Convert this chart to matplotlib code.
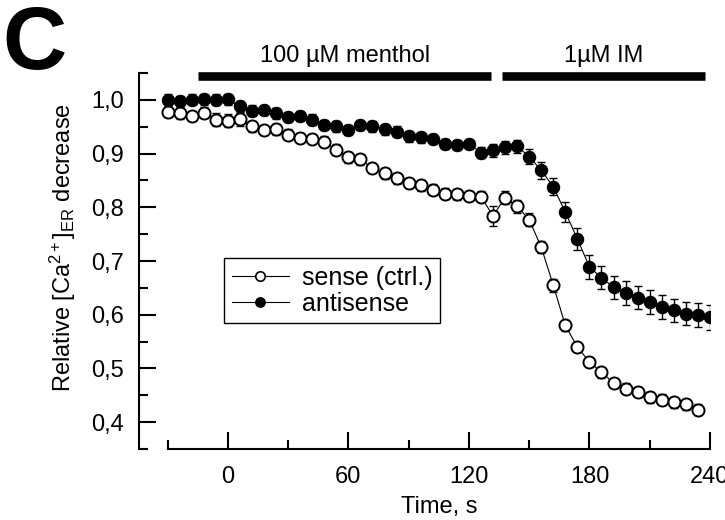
import matplotlib
matplotlib.use("Agg")
import matplotlib.pyplot as plt
from matplotlib.lines import Line2D

plt.rcParams['font.family'] = ['Liberation Sans', 'DejaVu Sans']
plt.rcParams['mathtext.fontset'] = 'custom'
plt.rcParams['mathtext.rm'] = 'Liberation Sans'
plt.rcParams['mathtext.it'] = 'Liberation Sans:italic'
plt.rcParams['mathtext.bf'] = 'Liberation Sans:bold'

# time points, s
time = [-30, -24, -18, -12, -6, 0, 6, 12, 18, 24, 30, 36, 42, 48, 54, 60,
        66, 72, 78, 84, 90, 96, 102, 108, 114, 120, 126, 132, 138, 144, 150,
        156, 162, 168, 174, 180, 186, 192, 198, 204, 210, 216, 222, 228, 234, 240]

# sense (ctrl.), open circles (one point less than antisense)
sense = [0.978, 0.975, 0.970, 0.976, 0.963, 0.961, 0.964, 0.951, 0.944, 0.945,
         0.935, 0.929, 0.927, 0.922, 0.907, 0.893, 0.889, 0.873, 0.863, 0.854,
         0.845, 0.841, 0.833, 0.825, 0.824, 0.821, 0.820, 0.784, 0.818, 0.802,
         0.777, 0.726, 0.655, 0.580, 0.540, 0.512, 0.493, 0.473, 0.462, 0.456,
         0.446, 0.442, 0.437, 0.433, 0.423]
sense_err = [0.010, 0.010, 0.010, 0.010, 0.012, 0.012, 0.012, 0.010, 0.010, 0.010,
             0.010, 0.010, 0.010, 0.010, 0.010, 0.010, 0.010, 0.010, 0.010, 0.010,
             0.010, 0.010, 0.010, 0.010, 0.010, 0.010, 0.010, 0.018, 0.012, 0.012,
             0.012, 0.012, 0.012, 0.010, 0.010, 0.010, 0.010, 0.010, 0.010, 0.010,
             0.010, 0.010, 0.010, 0.010, 0.010]

# antisense, filled circles
antisense = [1.000, 0.997, 1.000, 1.001, 1.000, 1.001, 0.988, 0.980, 0.981, 0.975,
             0.968, 0.970, 0.963, 0.953, 0.951, 0.944, 0.953, 0.951, 0.945, 0.941,
             0.932, 0.930, 0.927, 0.918, 0.916, 0.918, 0.902, 0.906, 0.912, 0.914,
             0.894, 0.869, 0.838, 0.791, 0.741, 0.689, 0.669, 0.651, 0.640, 0.632,
             0.624, 0.614, 0.608, 0.602, 0.599, 0.595]
antisense_err = [0.010, 0.010, 0.010, 0.010, 0.010, 0.010, 0.010, 0.010, 0.010, 0.010,
                 0.010, 0.010, 0.010, 0.010, 0.010, 0.010, 0.010, 0.010, 0.010, 0.010,
                 0.010, 0.010, 0.010, 0.010, 0.010, 0.010, 0.010, 0.012, 0.012, 0.012,
                 0.014, 0.016, 0.016, 0.018, 0.020, 0.022, 0.022, 0.022, 0.022, 0.022,
                 0.022, 0.022, 0.022, 0.022, 0.022, 0.023]

x_ticks = [0, 60, 120, 180, 240]
x_minor = [-30, 30, 90, 150, 210]
y_ticks = [0.4, 0.5, 0.6, 0.7, 0.8, 0.9, 1.0]
y_labels = ['0,4', '0,5', '0,6', '0,7', '0,8', '0,9', '1,0']
y_minor = [0.35, 0.45, 0.55, 0.65, 0.75, 0.85, 0.95, 1.05]

# application bars (start, end, label)
treatments = [(-14.6, 131.0, '100 µM menthol'), (136.5, 237.5, '1µM IM')]

fs = 17
fig = plt.figure(figsize=(7.25, 5.2), dpi=100)
ax = fig.add_axes([0.1917, 0.1365, 0.7876, 0.7231])

ax.errorbar(time[:len(sense)], sense, yerr=sense_err, fmt='none', ecolor='black',
            elinewidth=1, capsize=3, capthick=1, zorder=2)
ax.plot(time[:len(sense)], sense, '-o', color='black', lw=0.8, ms=8.7,
        mfc='white', mec='black', mew=1.4, zorder=3)
ax.errorbar(time, antisense, yerr=antisense_err, fmt='none', ecolor='black',
            elinewidth=1, capsize=3, capthick=1, zorder=4)
ax.plot(time, antisense, '-o', color='black', lw=0.8, ms=8.7,
        mfc='black', mec='black', mew=1.0, zorder=5)

ax.set_xlim(-44.2, 240)
ax.set_ylim(0.35, 1.05)
ax.spines['top'].set_visible(False)
ax.spines['right'].set_visible(False)
ax.spines['left'].set_linewidth(1.5)
ax.spines['bottom'].set_linewidth(1.5)
ax.spines['bottom'].set_bounds(-30, 240)

ax.set_xticks(x_ticks)
ax.set_xticks(x_minor, minor=True)
ax.set_yticks(y_ticks)
ax.set_yticklabels(y_labels)
ax.set_yticks(y_minor, minor=True)
ax.tick_params(which='major', direction='in', length=12.5, width=1.5,
               labelsize=fs)
ax.tick_params(which='minor', direction='in', length=6.5, width=1.5)
ax.tick_params(axis='y', which='major', pad=11)
ax.tick_params(axis='x', which='major', pad=12)

ax.set_xlabel('Time, s', fontsize=fs)
ax.xaxis.set_label_coords(0.525, -0.125)
ax.set_ylabel('Relative [Ca$^{2+}$]$_{\\rm ER}$ decrease', fontsize=fs)
ax.yaxis.set_label_coords(-0.107, 0.535)

for start, end, label in treatments:
    ax.plot([start, end], [1.045, 1.045], color='black', lw=6.2,
            solid_capstyle='butt', clip_on=False)
    ax.text((start + end) / 2, 1.071, label, ha='center', va='baseline',
            fontsize=fs, clip_on=False)

handles = [
    Line2D([], [], color='black', lw=0.8, marker='o', ms=6.8, mfc='white',
           mec='black', mew=1.2),
    Line2D([], [], color='black', lw=0.8, marker='o', ms=6.8, mfc='black',
           mec='black'),
]
leg = ax.legend(handles, ['sense (ctrl.)', 'antisense'], loc='upper left',
                bbox_to_anchor=(0.149, 0.508), borderaxespad=0, fontsize=18,
                frameon=True, fancybox=False, framealpha=1, edgecolor='black',
                handlelength=2.3, handletextpad=0.5, labelspacing=0.08,
                borderpad=0.3)
leg.get_frame().set_linewidth(1.0)

fig.text(0.003, 0.868, 'C', fontsize=64, fontweight='bold', va='baseline',
         ha='left')

fig.savefig('out.png', dpi=100)
